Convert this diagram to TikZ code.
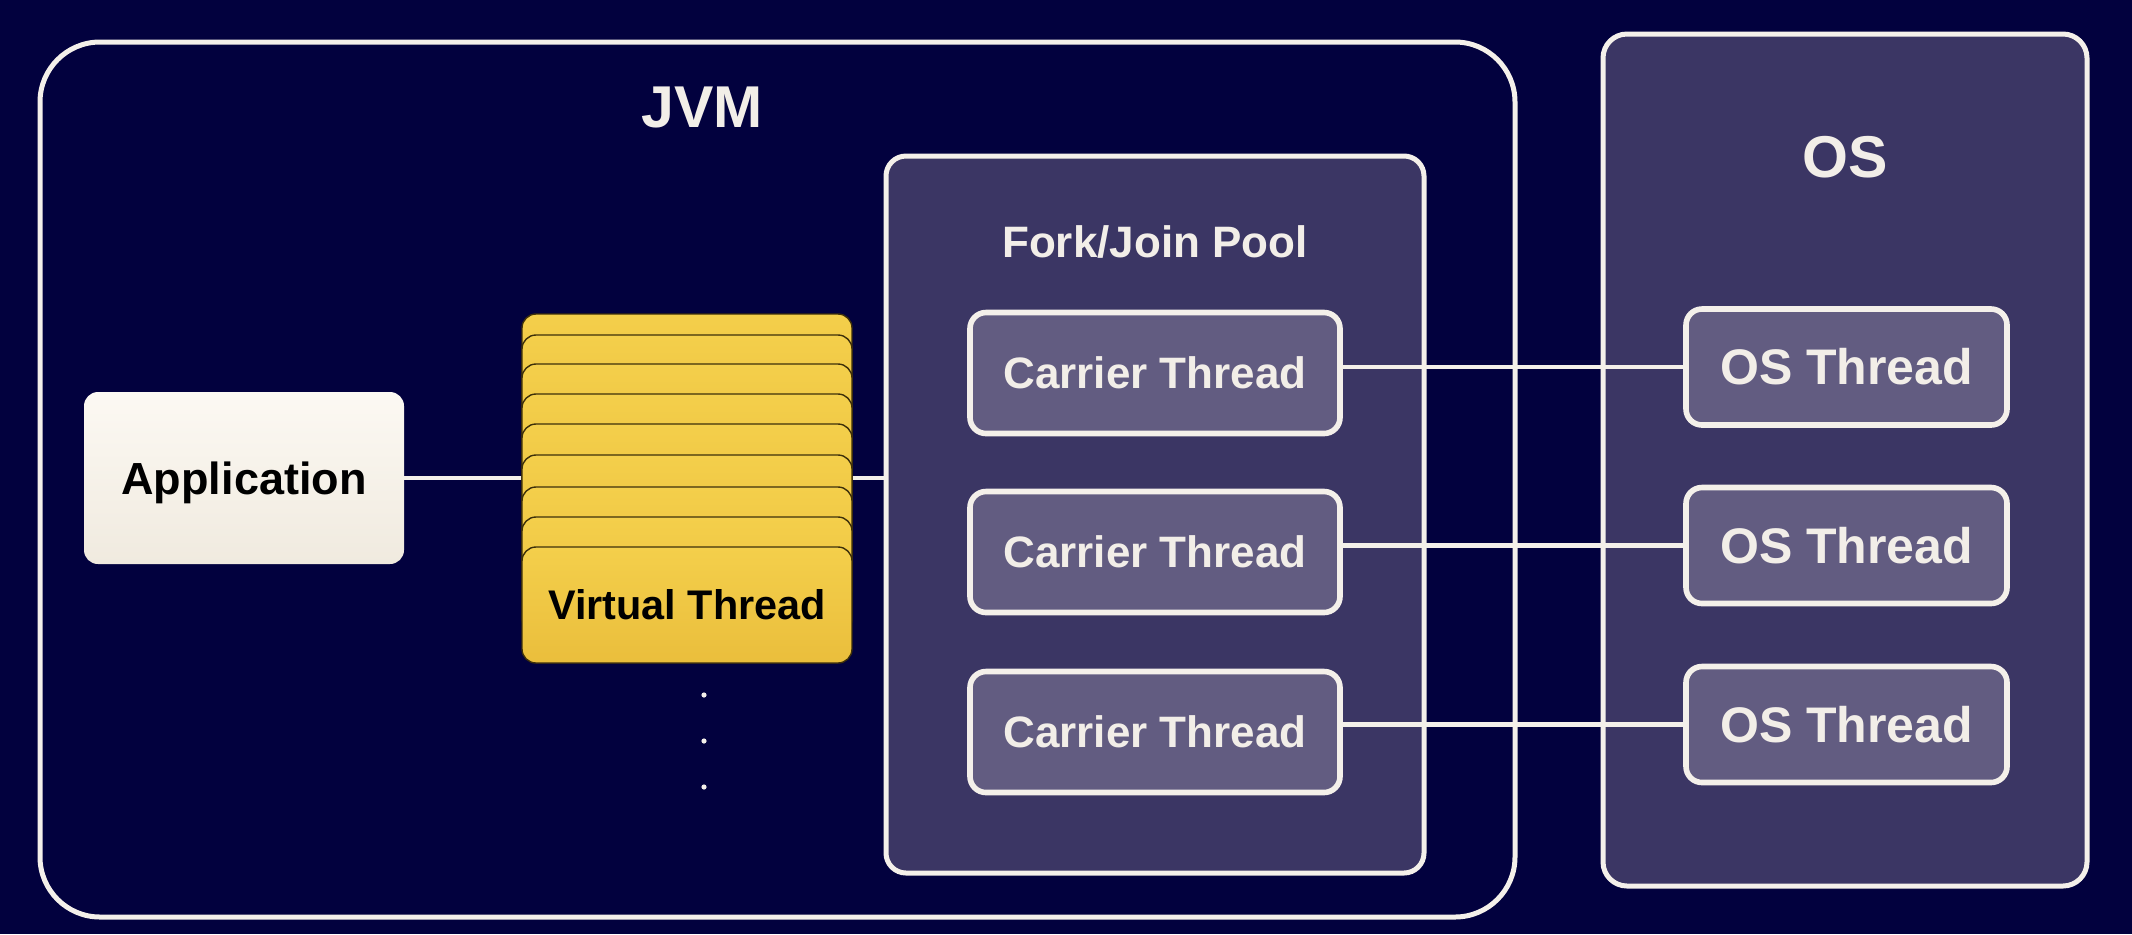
\documentclass[tikz,border=0pt]{standalone}
\usepackage{fontspec}
\setmainfont{Liberation Sans}
\definecolor{bgC}{HTML}{02013E}
\definecolor{lineC}{HTML}{F4F0EA}
\definecolor{poolC}{HTML}{3B3664}
\definecolor{innerC}{HTML}{625C81}
\definecolor{textC}{HTML}{F2EEE8}
\definecolor{yelTop}{HTML}{F4CF4B}
\definecolor{yelBot}{HTML}{EABE3C}
\definecolor{cardLine}{HTML}{3E300A}
\definecolor{appTop}{HTML}{FCF9F3}
\definecolor{appBot}{HTML}{F0EADF}
\newcommand{\fsz}[1]{\fontsize{#1}{#1}\selectfont\bfseries}
\begin{document}
\begin{tikzpicture}[x=0.5pt,y=-0.5pt,
  capc/.style={text height=#1, text depth=0pt},
  outerbox/.style={draw=lineC, line width=2.5pt, rounded corners=#1},
  innerbox/.style={draw=lineC, line width=2.8pt, fill=innerC, rounded corners=8pt, text=textC, inner sep=0pt},
  carrierbox/.style={innerbox, minimum width=185pt, minimum height=60.5pt, font=\fsz{22pt}, capc=15.8pt},
  osbox/.style={innerbox, minimum width=160.5pt, minimum height=58pt, font=\fsz{25pt}, capc=17.9pt},
  card/.style={draw=cardLine, line width=0.7pt, top color=yelTop, bottom color=yelBot, rounded corners=7pt, minimum width=165pt, minimum height=58pt, inner sep=0pt},
  conn/.style={draw=lineC, line width=2.4pt},
  dotnode/.style={circle, fill=lineC, inner sep=0pt, minimum size=2.6pt},
  title/.style={text=textC, inner sep=0pt}]
\fill[bgC] (0,0) rectangle (2132,934);
\useasboundingbox (0,0) rectangle (2132,934);

% containers
\node[outerbox=30pt, minimum width=737.5pt, minimum height=437.5pt] (jvm) at (777.5,479.5) {};
\node[title, font=\fsz{29.5pt}, capc=21.1pt] (jvmlabel) at (702,106) {JVM};
\node[outerbox=10pt, fill=poolC, minimum width=269pt, minimum height=358.5pt] (pool) at (1155,514.5) {};
\node[title, font=\fsz{22pt}, capc=15.8pt] (poollabel) at (1155,242) {Fork/Join Pool};
\node[outerbox=12pt, fill=poolC, minimum width=242pt, minimum height=426pt] (os) at (1845,460) {};
\node[title, font=\fsz{29.5pt}, capc=21.1pt] (oslabel) at (1845,156) {OS};

% application
\node[top color=appTop, bottom color=appBot, rounded corners=7pt, minimum width=160pt, minimum height=86pt, inner sep=0pt, font=\fsz{22.5pt}, capc=16.1pt, text=black] (app) at (244,478) {Application};
\draw[conn] (app.east) -- (app.east -| pool.west);

% virtual thread stack
\foreach \t [count=\i] in {314,335,364,394,424,455,487,517} {
  \node[card] (card\i) at (687,\t+58) {};
}
\node[card, font=\fsz{20.7pt}, capc=14.8pt, text=black] (vt) at (687,605) {Virtual Thread};

\node[dotnode] (d1) at (704,695) {};
\node[dotnode] (d2) at (704,741) {};
\node[dotnode] (d3) at (704,787) {};

% carrier threads
\node[carrierbox] (c1) at (1155,373) {Carrier Thread};
\node[carrierbox] (c2) at (1155,552) {Carrier Thread};
\node[carrierbox] (c3) at (1155,732) {Carrier Thread};

% OS threads
\node[osbox] (o1) at (1846.5,367) {OS Thread};
\node[osbox] (o2) at (1846.5,545.5) {OS Thread};
\node[osbox] (o3) at (1846.5,724.5) {OS Thread};

\draw[conn] (o1.west -| c1.east) -- (o1.west);
\draw[conn] (o2.west -| c2.east) -- (o2.west);
\draw[conn] (o3.west -| c3.east) -- (o3.west);
\end{tikzpicture}
\end{document}
